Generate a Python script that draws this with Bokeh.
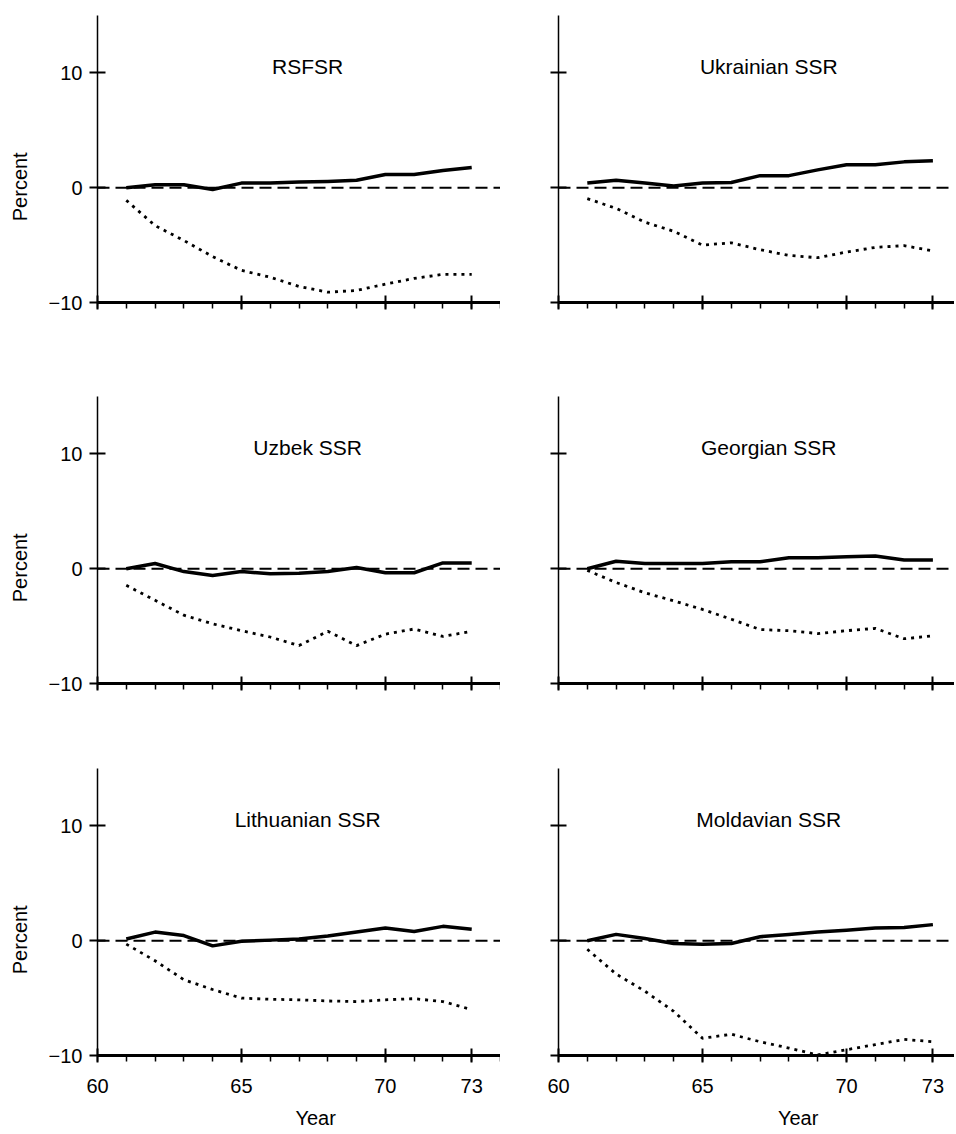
from bokeh.plotting import figure
from bokeh.layouts import gridplot
from bokeh.models import Span, Label, FixedTicker, Range1d
from bokeh.embed import file_html
from bokeh.resources import INLINE

years = [61, 62, 63, 64, 65, 66, 67, 68, 69, 70, 71, 72, 73]

regions = ["RSFSR", "Ukrainian SSR", "Uzbek SSR", "Georgian SSR",
           "Lithuanian SSR", "Moldavian SSR"]

rsfsr_solid = [0.0, 0.25, 0.25, -0.15, 0.4, 0.4, 0.5, 0.55, 0.65, 1.15, 1.15, 1.5, 1.75]
rsfsr_dotted = [-1.1, -3.3, -4.6, -6.0, -7.2, -7.8, -8.6, -9.1, -8.95, -8.4, -7.9, -7.55, -7.55]

ukr_solid = [0.4, 0.65, 0.4, 0.15, 0.4, 0.45, 1.05, 1.05, 1.55, 2.0, 2.0, 2.25, 2.35]
ukr_dotted = [-0.95, -1.8, -3.0, -3.8, -5.0, -4.8, -5.4, -5.9, -6.1, -5.6, -5.2, -5.05, -5.5]

uzb_solid = [0.0, 0.45, -0.25, -0.6, -0.25, -0.45, -0.4, -0.25, 0.1, -0.35, -0.35, 0.5, 0.5]
uzb_dotted = [-1.45, -2.75, -4.05, -4.8, -5.4, -5.95, -6.7, -5.45, -6.7, -5.7, -5.25, -5.9, -5.45]

geo_solid = [0.0, 0.65, 0.45, 0.45, 0.45, 0.6, 0.6, 0.95, 0.95, 1.05, 1.1, 0.75, 0.75]
geo_dotted = [-0.15, -1.2, -2.1, -2.8, -3.55, -4.4, -5.3, -5.4, -5.65, -5.4, -5.2, -6.1, -5.85]

lit_solid = [0.15, 0.75, 0.45, -0.45, -0.05, 0.05, 0.15, 0.4, 0.75, 1.1, 0.8, 1.25, 1.0]
lit_dotted = [-0.3, -1.75, -3.4, -4.25, -5.0, -5.1, -5.15, -5.25, -5.3, -5.15, -5.05, -5.3, -6.0]

mol_solid = [0.0, 0.55, 0.2, -0.25, -0.3, -0.25, 0.35, 0.55, 0.75, 0.9, 1.1, 1.15, 1.4]
mol_dotted = [-0.75, -2.9, -4.4, -6.15, -8.5, -8.15, -8.8, -9.35, -9.95, -9.5, -9.05, -8.6, -8.8]

solids = [rsfsr_solid, ukr_solid, uzb_solid, geo_solid, lit_solid, mol_solid]
dotteds = [rsfsr_dotted, ukr_dotted, uzb_dotted, geo_dotted, lit_dotted, mol_dotted]

x_ticks = [60, 65, 70, 73]
x_minor = list(range(60, 75))
y_ticks = [-10, 0, 10]

FONT = "Liberation Sans"
TITLE_X = 67.3
TITLE_Y = 10.6
NB = "\u00a0"

# (top border, bottom border) per row
row_borders = [(15, 46), (48, 40), (45, 76)]


def make_panel(i):
    row, col = divmod(i, 2)
    left = col == 0
    bottom = row == 2
    top_b, bot_b = row_borders[row]
    xr = Range1d(60, 74.0) if left else Range1d(60, 73.75)
    p = figure(frame_width=403 if left else 396, frame_height=287,
               x_range=xr, y_range=Range1d(-10, 15),
               output_backend="svg", toolbar_location=None,
               min_border_left=97 if left else 58, min_border_right=0,
               min_border_top=top_b, min_border_bottom=bot_b)
    p.outline_line_color = None
    p.grid.visible = False
    p.background_fill_color = "white"
    p.border_fill_color = "white"

    # x axis
    xa = p.xaxis[0]
    xa.ticker = FixedTicker(ticks=x_ticks, minor_ticks=x_minor)
    xa.axis_line_width = 3
    xa.axis_line_color = "black"
    xa.major_tick_in = 7
    xa.major_tick_out = 7
    xa.major_tick_line_width = 2
    xa.minor_tick_in = 0
    xa.minor_tick_out = 6
    xa.minor_tick_line_width = 1.5
    xa.major_label_text_font = FONT
    xa.major_label_text_font_size = "20px"
    xa.major_label_text_color = "black"
    xa.major_label_standoff = 16
    if bottom:
        xa.axis_label = (NB * 6 if left else NB * 15) + "Year"
        xa.axis_label_text_font = FONT
        xa.axis_label_text_font_size = "20px"
        xa.axis_label_text_font_style = "normal"
        xa.axis_label_text_color = "black"
        xa.axis_label_standoff = 11
    else:
        xa.major_label_overrides = {t: "" for t in x_ticks}

    # y axis
    ya = p.yaxis[0]
    ya.ticker = FixedTicker(ticks=y_ticks, minor_ticks=[])
    ya.axis_line_width = 1.5
    ya.axis_line_color = "black"
    ya.major_tick_in = 8
    ya.major_tick_out = 8
    ya.major_tick_line_width = 2
    ya.minor_tick_line_color = None
    ya.major_label_text_font = FONT
    ya.major_label_text_font_size = "20px"
    ya.major_label_text_color = "black"
    ya.major_label_standoff = 7
    if left:
        ya.major_label_overrides = {-10: "\u221210", 0: "0", 10: "10"}
        ya.axis_label = "Percent" + NB * 10
        ya.axis_label_text_font = FONT
        ya.axis_label_text_font_size = "20px"
        ya.axis_label_text_font_style = "normal"
        ya.axis_label_text_color = "black"
        ya.axis_label_standoff = 15
    else:
        ya.major_label_overrides = {t: "" for t in y_ticks}

    p.add_layout(Span(location=0, dimension="width", line_color="black",
                      line_width=2, line_dash="12 6"))
    p.line(years, dotteds[i], line_color="black", line_width=2.8,
           line_dash="3 5")
    p.line(years, solids[i], line_color="black", line_width=3.5,
           line_join="round")
    p.add_layout(Label(x=TITLE_X, y=TITLE_Y, text=regions[i],
                       text_font=FONT, text_font_size="21px",
                       text_align="center", text_baseline="middle",
                       text_color="black"))
    return p


panels = [make_panel(i) for i in range(6)]
grid = gridplot([[panels[0], panels[1]], [panels[2], panels[3]],
                 [panels[4], panels[5]]], toolbar_location=None)

open("out.html", "w").write(file_html(grid, INLINE))
